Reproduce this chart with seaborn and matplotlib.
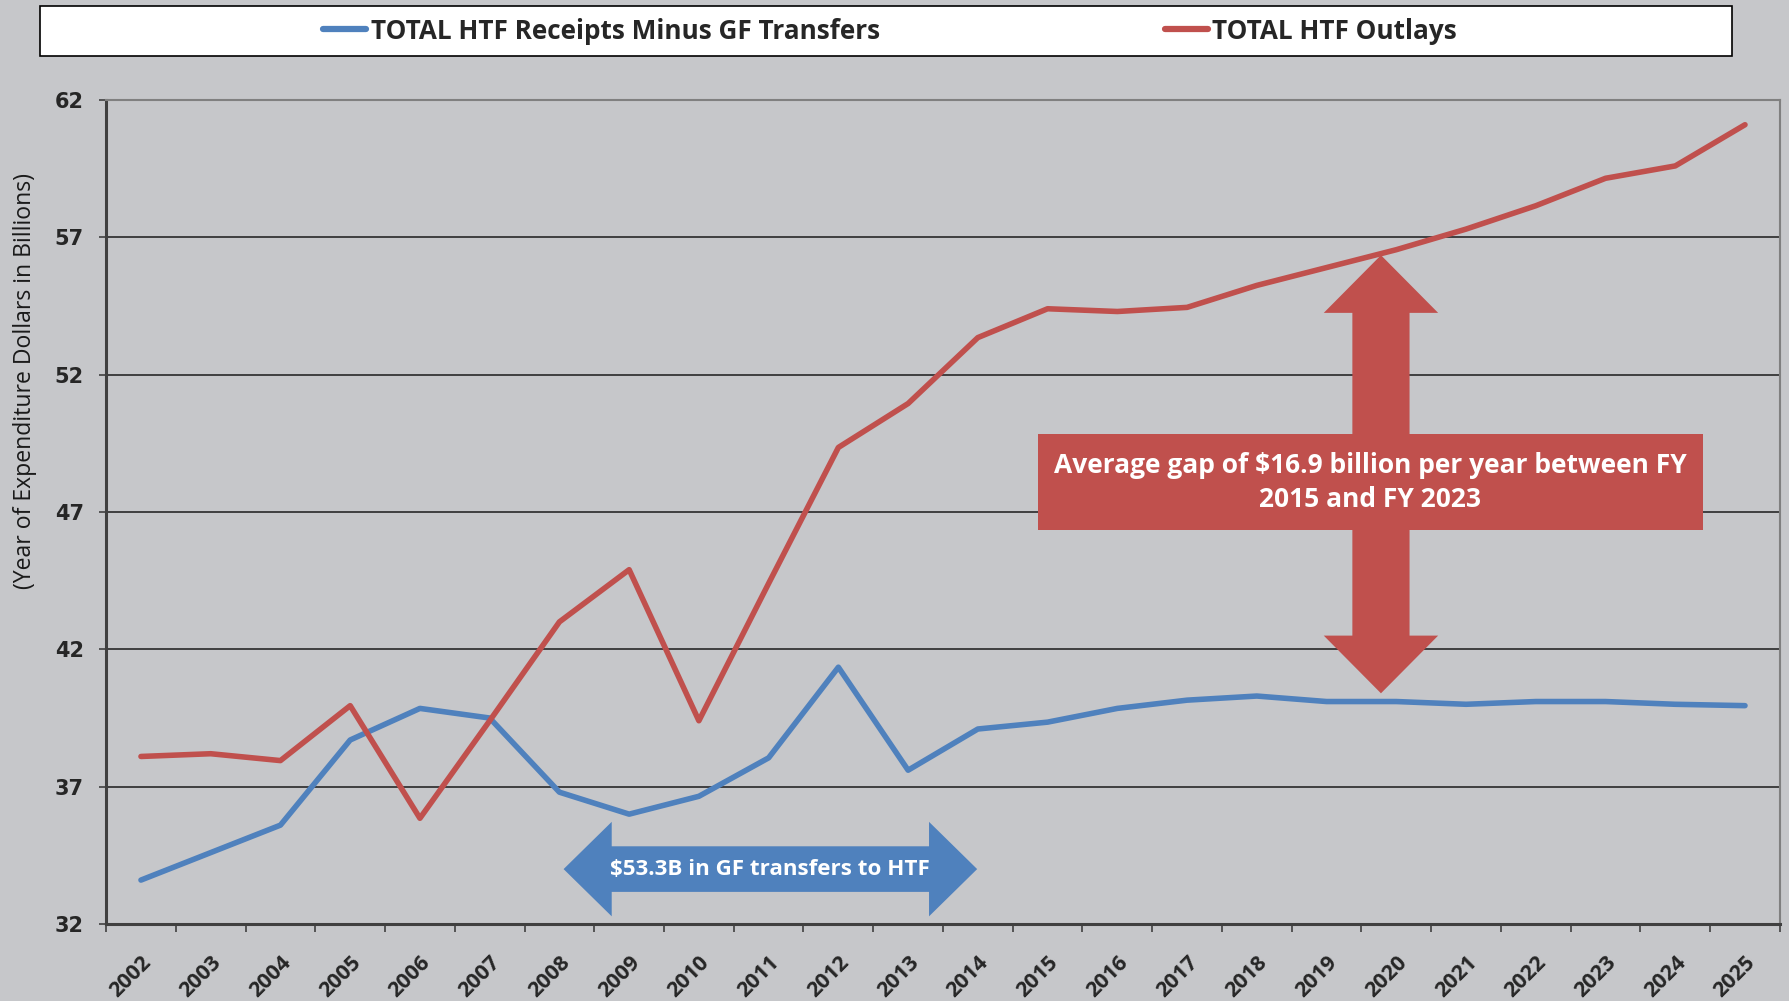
import pandas as pd
import matplotlib
matplotlib.use("Agg")
import matplotlib.pyplot as plt
from matplotlib.patches import Polygon, Rectangle
from matplotlib.lines import Line2D
from matplotlib.transforms import ScaledTranslation
import seaborn as sns

# data (billions of YOE dollars)
years = list(range(2002, 2026))
receipts = [33.6, 34.6, 35.6, 38.7, 39.85, 39.5, 36.8, 36.0, 36.65, 38.05, 41.35, 37.6,
            39.1, 39.35, 39.85, 40.15, 40.3, 40.1, 40.1, 40.0, 40.1, 40.1, 40.0, 39.95]
outlays = [38.1, 38.2, 37.95, 39.95, 35.85, 39.4, 43.0, 44.9, 39.4, 44.4, 49.35, 50.95,
           53.35, 54.4, 54.3, 54.45, 55.25, 55.9, 56.55, 57.3, 58.15, 59.15, 59.6, 61.1]
series_names = ["TOTAL HTF Receipts Minus GF Transfers", "TOTAL HTF Outlays"]
yticks = [32, 37, 42, 47, 52, 57, 62]
ylabel = "(Year of Expenditure Dollars in Billions)"
blue_note = "$53.3B in GF transfers to HTF"
red_note = "Average gap of $16.9 billion per year between FY\n2015 and FY 2023"

BLUE = "#4f81bd"
RED = "#c0504d"
BG = "#c6c7ca"
FONT = ["Open Sans", "DejaVu Sans"]

sns.set_theme(style="white")
plt.rcParams["font.family"] = FONT

df = pd.DataFrame({
    "pos": list(range(len(years))) * 2,
    "value": receipts + outlays,
    "series": [series_names[0]] * len(years) + [series_names[1]] * len(years),
})

fig = plt.figure(figsize=(17.89, 10.01), dpi=100)
fig.patch.set_facecolor(BG)
ax = fig.add_axes([0.0593, 0.0769, 0.9356, 0.8232])
ax.set_facecolor(BG)

sns.lineplot(data=df, x="pos", y="value", hue="series", palette=[BLUE, RED],
             linewidth=4.0, ax=ax, legend=False, zorder=3)
for ln in ax.lines:
    ln.set_solid_capstyle("round")
    ln.set_solid_joinstyle("round")

ax.set_xlim(-0.5, len(years) - 0.5)
ax.set_ylim(32, 62)
ax.set_yticks(yticks)
ax.set_yticklabels([str(v) for v in yticks], fontfamily="DejaVu Sans",
                   fontweight="bold", fontsize=15)
ax.tick_params(axis="y", length=5, width=1.2, color="#404040", pad=11, left=True)
for y in yticks[1:-1]:
    ax.axhline(y, color="#1a1a1a", lw=1.1, zorder=1)

# category axis: ticks between categories, labels at the centres
ax.set_xticks([i - 0.5 for i in range(len(years) + 1)])
ax.set_xticklabels([])
ax.set_xticks(range(len(years)), minor=True)
ax.set_xticklabels([str(y) for y in years], minor=True, fontweight="bold", fontsize=15.5)
shift = ScaledTranslation(-0.07, 0, fig.dpi_scale_trans)
for lab in ax.get_xticklabels(minor=True):
    lab.set_rotation(45)
    lab.set_rotation_mode("anchor")
    lab.set_horizontalalignment("right")
    lab.set_verticalalignment("top")
    lab.set_transform(lab.get_transform() + shift)
ax.tick_params(axis="x", which="major", length=6, width=1.2, color="#404040", bottom=True)
ax.tick_params(axis="x", which="minor", length=0, pad=20)
ax.set_xlabel("")
ax.set_ylabel("")

for side in ["left", "bottom"]:
    ax.spines[side].set_color("#404040")
    ax.spines[side].set_linewidth(2.2)
for side in ["top", "right"]:
    ax.spines[side].set_color("#808080")
    ax.spines[side].set_linewidth(1.5)

# blue horizontal double arrow
x0, x1, yc, sh, hh, hl = 6.06, 11.99, 34.0, 0.83, 1.72, 0.69
ax.add_patch(Polygon([(x0, yc), (x0 + hl, yc + hh), (x0 + hl, yc + sh), (x1 - hl, yc + sh),
                      (x1 - hl, yc + hh), (x1, yc), (x1 - hl, yc - hh), (x1 - hl, yc - sh),
                      (x0 + hl, yc - sh), (x0 + hl, yc - hh)],
                     closed=True, facecolor=BLUE, edgecolor="none", zorder=4))
ax.text((x0 + x1) / 2, yc, blue_note, ha="center", va="center", color="white",
        fontweight="bold", fontsize=16.1, zorder=5)

# red vertical double arrow with text box
xc, y0, y1, sw, hw, hlen = 17.78, 40.4, 56.35, 0.41, 0.82, 2.1
ax.add_patch(Polygon([(xc, y1), (xc + hw, y1 - hlen), (xc + sw, y1 - hlen), (xc + sw, y0 + hlen),
                      (xc + hw, y0 + hlen), (xc, y0), (xc - hw, y0 + hlen), (xc - sw, y0 + hlen),
                      (xc - sw, y1 - hlen), (xc - hw, y1 - hlen)],
                     closed=True, facecolor=RED, edgecolor="none", zorder=4))
bx, by, bw, bh = 12.86, 46.34, 9.54, 3.49
ax.add_patch(Rectangle((bx, by), bw, bh, facecolor=RED, edgecolor="none", zorder=4))
ax.text(bx + bw / 2, by + bh / 2, red_note, ha="center", va="center",
        color="white", fontweight="bold", fontsize=19, linespacing=1.35, zorder=5)

fig.text(0.014, 0.619, ylabel, rotation=90, ha="center", va="center",
         fontsize=16.6, color="#1a1a1a")

# legend in a white box across the top
fig.add_artist(Rectangle((0.0224, 0.944), 0.9456, 0.050, transform=fig.transFigure,
                         facecolor="white", edgecolor="black", lw=1.2))
handles = [Line2D([], [], color=c, lw=4.5, solid_capstyle="round") for c in [BLUE, RED]]
fig.legend(handles, series_names, loc="center", bbox_to_anchor=(0.4975, 0.969), ncol=2,
           frameon=False, prop={"weight": "bold", "size": 18.8, "family": FONT},
           handlelength=1.66, handletextpad=0.17, columnspacing=10.9)

fig.savefig("out.png", dpi=100, facecolor=BG)
